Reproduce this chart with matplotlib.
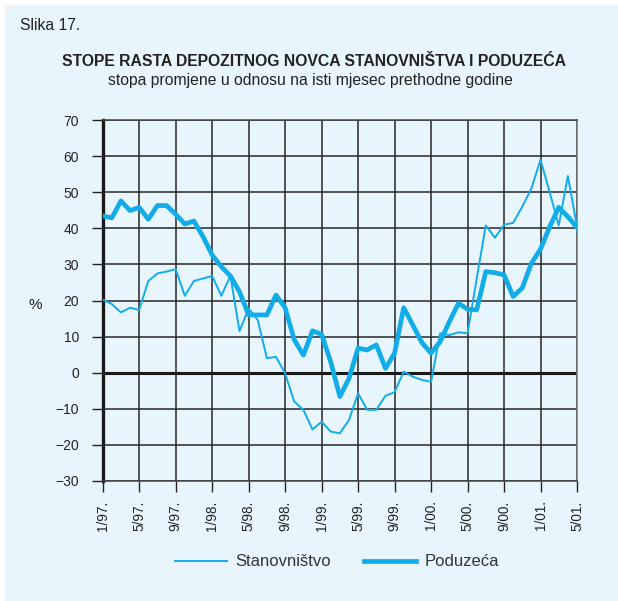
import matplotlib.pyplot as plt
import numpy as np
from matplotlib.patches import Rectangle

plt.rcParams['font.family'] = ['Liberation Sans', 'DejaVu Sans']

# mjesečni podaci 1/97 - 5/01
tick_labels = ["1/97.", "5/97.", "9/97.", "1/98.", "5/98.", "9/98.", "1/99.",
               "5/99.", "9/99.", "1/00.", "5/00.", "9/00.", "1/01.", "5/01."]

stanovnistvo = [20.3, 19.0, 16.7, 18.0, 17.4, 25.4, 27.5, 28.0, 28.7, 21.3,
                25.4, 26.1, 26.8, 21.3, 26.8, 11.5, 17.8, 14.6, 4.0, 4.4,
                -0.2, -8.0, -10.3, -15.7, -13.6, -16.3, -16.8, -13.1, -5.7, -10.3,
                -10.3, -6.4, -5.4, 0.3, -1.1, -2.0, -2.5, 10.9, 10.4, 11.2,
                10.9, 26.0, 40.8, 37.4, 41.0, 41.5, 46.0, 51.0, 59.0, 50.0,
                40.8, 54.5, 40.5]

poduzeca = [43.4, 42.9, 47.6, 44.9, 45.8, 42.5, 46.3, 46.3, 43.9, 41.2,
            42.0, 37.7, 32.6, 29.4, 26.8, 22.4, 16.0, 16.0, 16.0, 21.5,
            18.0, 9.1, 4.9, 11.6, 10.6, 3.0, -6.6, -1.6, 6.8, 6.3,
            7.7, 1.2, 5.4, 18.0, 13.2, 8.3, 5.4, 8.6, 14.1, 19.2,
            17.6, 17.4, 28.0, 27.7, 27.1, 21.1, 23.5, 30.3, 34.2, 40.4,
            45.8, 43.2, 40.2]

bg = '#E8F5FD'
blue = '#12ADE9'

fig = plt.figure(figsize=(6.18, 6.01), dpi=100, facecolor=bg)
# bijeli rub gore i lijevo
fig.patches.append(Rectangle((0, 1 - 5 / 601), 1, 5 / 601, transform=fig.transFigure,
                             facecolor='white', edgecolor='none', zorder=0))
fig.patches.append(Rectangle((0, 0), 5 / 618, 1, transform=fig.transFigure,
                             facecolor='white', edgecolor='none', zorder=0))

ax = fig.add_axes([102.7 / 618, 120 / 601, 474.3 / 618, 361 / 601])
ax.set_zorder(2)
ax.set_facecolor(bg)

x = np.arange(len(poduzeca))
ax.plot(x, stanovnistvo, color=blue, lw=1.4, label='Stanovništvo', zorder=4)
ax.plot(x, poduzeca, color=blue, lw=3.4, label='Poduzeća', zorder=5)

ax.set_xlim(0, 52)
ax.set_ylim(-30, 70)
ax.set_xticks(np.arange(0, 53, 4))
ax.set_xticklabels(tick_labels, rotation=90, fontsize=9.8, color='#222222')
ax.set_yticks(np.arange(-30, 71, 10))
ax.tick_params(axis='y', length=8, width=1, pad=9, labelsize=10, colors='#222222')
ax.tick_params(axis='x', length=8, width=1, pad=6, colors='#222222')

ax.grid(True, color='#262626', lw=1.1, zorder=1)
ax.axhline(0, color='#1a1a1a', lw=2.2, zorder=2)
for s in ['top', 'bottom']:
    ax.spines[s].set_color('#444444')
    ax.spines[s].set_linewidth(1.1)
ax.spines['left'].set_color('#1a1a1a')
ax.spines['left'].set_linewidth(2.4)
ax.spines['right'].set_color('#777777')
ax.spines['right'].set_linewidth(1.1)

fig.text(20 / 618, 1 - 25 / 601, 'Slika 17.', fontsize=11.3, color='#222222', va='center')
fig.text(314 / 618, 1 - 62 / 601, 'STOPE RASTA DEPOZITNOG NOVCA STANOVNIŠTVA I PODUZEĆA',
         fontsize=11.3, fontweight='bold', color='#222222', ha='center', va='center')
fig.text(310 / 618, 1 - 80 / 601, 'stopa promjene u odnosu na isti mjesec prethodne godine',
         fontsize=11.3, color='#222222', ha='center', va='center')
fig.text(35 / 618, 1 - 305 / 601, '%', fontsize=11, color='#222222', ha='center', va='center')

fig.legend(loc='center', bbox_to_anchor=(337 / 618, 1 - 562 / 601), ncol=2,
           frameon=False, fontsize=12, handlelength=3.1, handletextpad=0.5,
           columnspacing=2.0, labelcolor='#333333')

fig.savefig('out.png', dpi=100, facecolor=fig.get_facecolor())
